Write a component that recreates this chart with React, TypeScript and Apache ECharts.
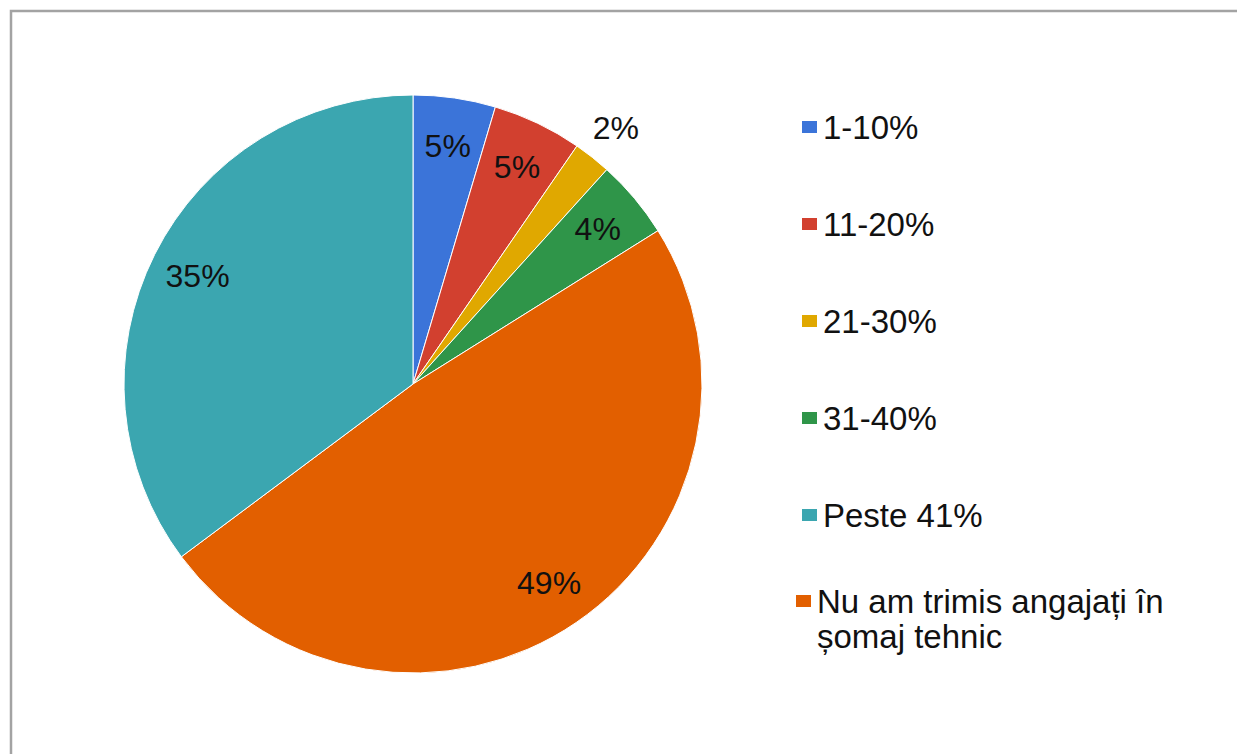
import React, { useEffect, useRef } from "react";
import * as echarts from "echarts";

const categories = [
  "1-10%",
  "11-20%",
  "21-30%",
  "31-40%",
  "Nu am trimis angajați în\nșomaj tehnic",
  "Peste 41%",
];
const values = [4.6, 5.0, 2.1, 4.4, 48.7, 35.2];
const colors = ["#3b74d9", "#d2402f", "#e0a800", "#2f9549", "#e25f00", "#3ba6b0"];
const legendMain = ["1-10%", "11-20%", "21-30%", "31-40%", "Peste 41%"];
const legendLong = ["Nu am trimis angajați în\nșomaj tehnic"];
const outsideLabelCats = ["21-30%"];

const FONT = "'Liberation Sans', Arial, sans-serif";

export default function App() {
  const ref = useRef<HTMLDivElement>(null);
  useEffect(() => {
    if (!ref.current) return;
    const chart = echarts.init(ref.current, undefined, { renderer: "svg" });
    const data = categories.map((name, i) => ({
      name,
      value: values[i],
      itemStyle: { color: colors[i] },
    }));
    const fmt = (p: any) => Math.round(p.percent) + "%";
    const labelStyle = {
      color: "#111",
      fontSize: 32,
      fontFamily: FONT,
    };
    const legendBase = {
      orient: "vertical" as const,
      left: 800,
      padding: 0,
      itemWidth: 17,
      itemHeight: 14,
      itemGap: 62,
      icon: "rect",
      selectedMode: false,
      textStyle: {
        color: "#111",
        fontSize: 33,
        fontFamily: FONT,
        lineHeight: 35,
      },
    };
    chart.setOption({
      animation: false,
      backgroundColor: "#fff",
      graphic: [
        {
          type: "rect",
          shape: { x: 11, y: 11, width: 1260, height: 780 },
          style: { fill: "none", stroke: "#a3a3a3", lineWidth: 2.5 },
          silent: true,
        },
      ],
      legend: [
        { ...legendBase, top: 109.5, data: legendMain },
        {
          ...legendBase,
          left: 794,
          top: 548.5,
          data: legendLong,
          formatter: (name: string) => "\n" + name,
        },
      ],
      series: [
        {
          type: "pie",
          center: [413, 384],
          radius: [0, 289],
          startAngle: 90,
          clockwise: true,
          data,
          label: { show: false },
          labelLine: { show: false },
          itemStyle: { borderColor: "#fff", borderWidth: 1 },
          emphasis: { disabled: true },
        },
        {
          type: "pie",
          center: [413, 384],
          radius: [176, 300],
          startAngle: 90,
          clockwise: true,
          silent: true,
          legendHoverLink: false,
          data: categories.map((name, i) => ({
            name,
            value: values[i],
            label: { show: !outsideLabelCats.includes(name) },
          })),
          itemStyle: { color: "rgba(0,0,0,0)" },
          label: { position: "inside", formatter: fmt, ...labelStyle },
          labelLine: { show: false },
          emphasis: { disabled: true },
        },
        {
          type: "pie",
          center: [413, 384],
          radius: [300, 348],
          startAngle: 90,
          clockwise: true,
          silent: true,
          legendHoverLink: false,
          data: categories.map((name, i) => ({
            name,
            value: values[i],
            label: { show: outsideLabelCats.includes(name) },
          })),
          itemStyle: { color: "rgba(0,0,0,0)" },
          label: { position: "inside", formatter: fmt, ...labelStyle },
          labelLine: { show: false },
          emphasis: { disabled: true },
        },
      ],
    });
    return () => chart.dispose();
  }, []);
  return (
    <div
      ref={ref}
      style={{ position: "absolute", left: 0, top: 0, width: 1237, height: 754 }}
    />
  );
}
